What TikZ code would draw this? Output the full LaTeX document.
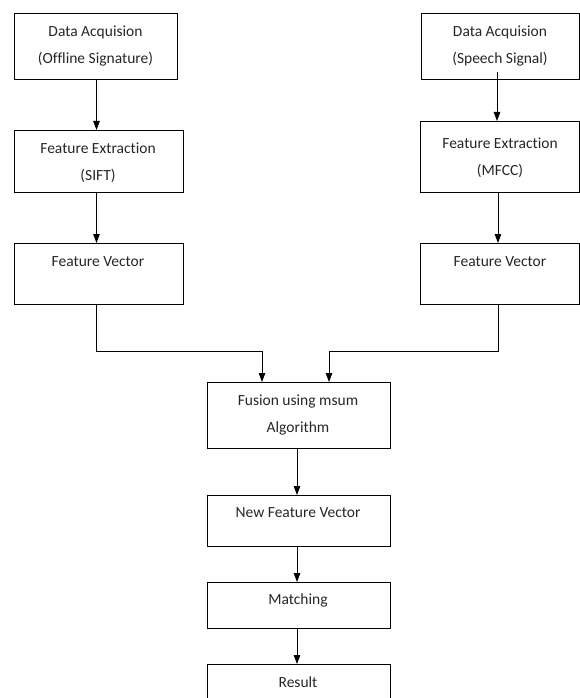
\documentclass[tikz,border=0pt]{standalone}
\usepackage{fontspec}
\setmainfont{Carlito}[Ligatures={NoCommon}]
\usetikzlibrary{arrows.meta}
\begin{document}
\begin{tikzpicture}[x=1pt,y=-1pt,
  box/.style={draw=black,line width=0.8pt,inner sep=0pt,anchor=north west},
  txt/.style={font=\fontsize{15.5}{27}\selectfont,align=center,inner sep=0pt,text=black!85},
  arr/.style={draw=black,line width=0.8pt,-{Triangle[length=9pt,width=6.5pt]}}]
\useasboundingbox (0,0) rectangle (580,698);
\begin{scope}
\clip (0,0) rectangle (580,698);
% boxes
\node[box,minimum width=163pt,minimum height=66pt] (L1) at (14,13) {};
\node[box,minimum width=169pt,minimum height=62pt] (L2) at (14,130) {};
\node[box,minimum width=169pt,minimum height=61pt] (L3) at (14,243) {};
\node[box,minimum width=158pt,minimum height=66pt] (R1) at (421,13) {};
\node[box,minimum width=159pt,minimum height=71pt] (R2) at (420,121) {};
\node[box,minimum width=159pt,minimum height=61pt] (R3) at (420,243) {};
\node[box,minimum width=183pt,minimum height=66pt] (F) at (207,382) {};
\node[box,minimum width=183pt,minimum height=51pt] (N) at (207,495) {};
\node[box,minimum width=183pt,minimum height=46pt] (M) at (207,582) {};
\node[box,minimum width=183pt,minimum height=60pt] (Res) at (207,664) {};
% texts
\node[txt] (L1t) at (95.5,46.5) {Data Acquision\\(Offline Signature)};
\node[txt] (L2t) at (98,163) {Feature Extraction\\(SIFT)};
\node[txt] (L3t) at (98,262) {Feature Vector};
\node[txt] (R1t) at (500,46.5) {Data Acquision\\(Speech Signal)};
\node[txt] (R2t) at (500,157.5) {Feature Extraction\\(MFCC)};
\node[txt] (R3t) at (500,262) {Feature Vector};
\node[txt] (Ft) at (298,415) {Fusion using msum\\Algorithm};
\node[txt] (Nt) at (298,513) {New Feature Vector};
\node[txt] (Mt) at (298,600) {Matching};
\node[txt] (Rest) at (298,682) {Result};
% connectors
\coordinate (R1s) at (497,72);
\draw[arr] (L1.south -| 96.5,0) -- (L2.north -| 96.5,0);
\draw[arr] (L2.south -| 96.5,0) -- (L3.north -| 96.5,0);
\draw[arr] (R1s) -- (R2.north -| 497,0);
\draw[arr] (R2.south -| 498,0) -- (R3.north -| 498,0);
\draw[arr] (L3.south -| 96,0) -- (96,351) -- (262,351) -- (F.north -| 262,0);
\draw[arr] (R3.south -| 498,0) -- (498,351) -- (329,351) -- (F.north -| 329,0);
\draw[arr] (F.south -| 297,0) -- (N.north -| 297,0);
\draw[arr] (N.south -| 297,0) -- (M.north -| 297,0);
\draw[arr] (M.south -| 297,0) -- (Res.north -| 297,0);
\end{scope}
\end{tikzpicture}
\end{document}
